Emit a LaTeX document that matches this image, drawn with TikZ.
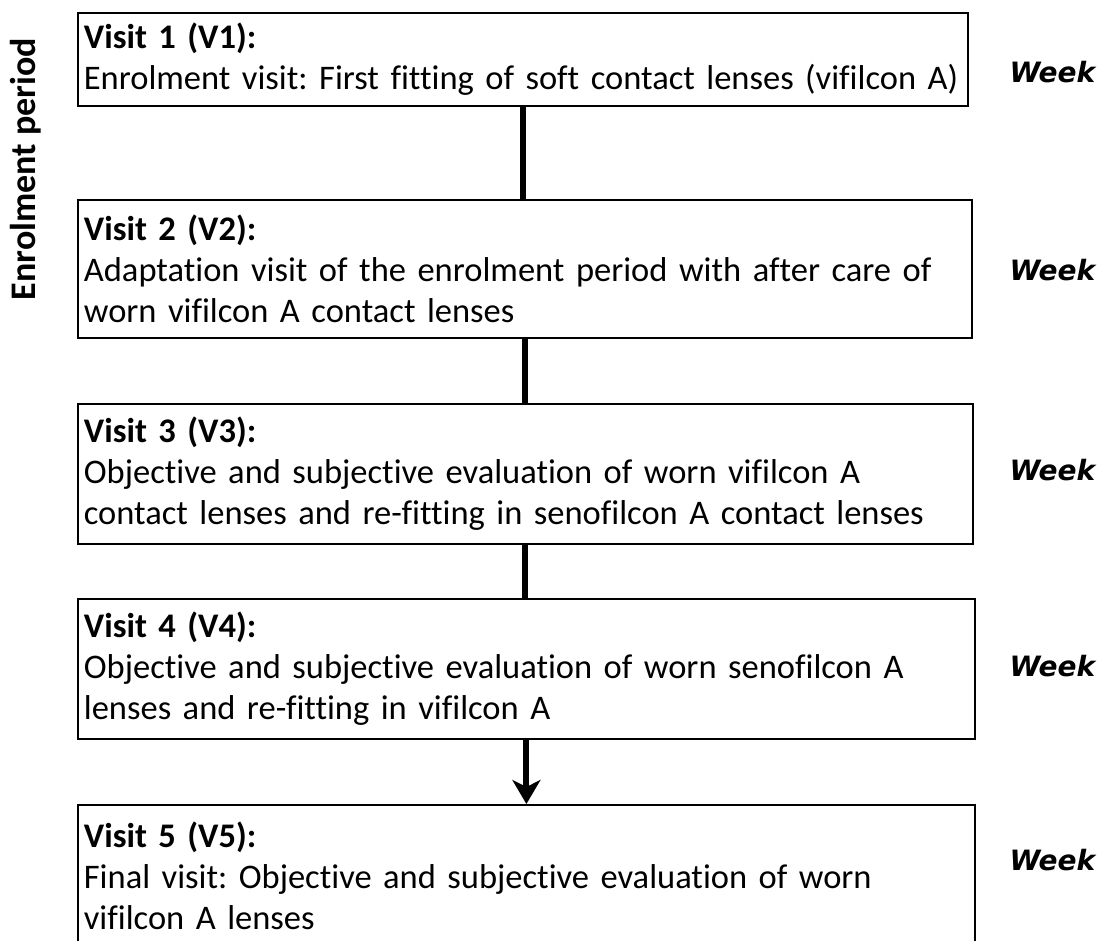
\documentclass[tikz,border=0pt]{standalone}
\usepackage{fontspec}
\setmainfont{Carlito}[Ligatures=CommonOff]
\newfontfamily\weekfont{DejaVu Sans}
\usetikzlibrary{arrows.meta}
\newcommand\myboxfont{\fontsize{34.5}{41}\selectfont\frenchspacing\spaceskip=0.16em plus 0.05em\relax}
\begin{document}
\begin{tikzpicture}[x=1pt,y=-1pt,
  box/.style={draw, line width=1.8pt, anchor=north west, inner xsep=6pt, inner ysep=0pt, align=left,
    font=\myboxfont},
  link/.style={line width=6pt},
  week/.style={anchor=west, font=\weekfont\bfseries\itshape\fontsize{28}{30}\selectfont},
  side/.style={rotate=90, font=\bfseries\fontsize{36}{40}\selectfont}]
\useasboundingbox (0,0) rectangle (1105,941);
\node[box, text width=878pt, minimum height=93pt] (v1) at (77,12)
  {\textbf{Visit 1 (V1):}\\Enrolment visit: First fitting of soft contact lenses (vifilcon A)};
\node[box, text width=882pt, minimum height=138pt] (v2) at (77,199)
  {\textbf{Visit 2 (V2):}\\Adaptation visit of the enrolment period with after care of\\worn vifilcon A contact lenses};
\node[box, text width=883pt, minimum height=140pt] (v3) at (77,403)
  {\textbf{Visit 3 (V3):}\\Objective and subjective evaluation of worn vifilcon A\\contact lenses and re-fitting in senofilcon A contact lenses};
\node[box, text width=885pt, minimum height=140pt] (v4) at (77,598)
  {\textbf{Visit 4 (V4):}\\Objective and subjective evaluation of worn senofilcon A\\lenses and re-fitting in vifilcon A};
\node[box, text width=885pt, minimum height=141pt] (v5) at (77,804)
  {\textbf{Visit 5 (V5):}\\Final visit: Objective and subjective evaluation of worn\\vifilcon A lenses};
\draw[link] (v1.south) -- (v1.south |- v2.north);
\draw[link] (v2.south) -- (v2.south |- v3.north);
\draw[link] (v3.south) -- (v3.south |- v4.north);
\draw[link, -{Stealth[length=24pt, width=28pt, inset=7pt]}] (v4.south) -- (v4.south |- v5.north);
\node[side] (ep) at (26,169) {Enrolment period};
\node[week] (w1) at (1006,72) {Week};
\node[week] (w2) at (1006,270) {Week};
\node[week] (w3) at (1006,470) {Week};
\node[week] (w4) at (1006,666) {Week};
\node[week] (w5) at (1006,860) {Week};
\end{tikzpicture}
\end{document}
